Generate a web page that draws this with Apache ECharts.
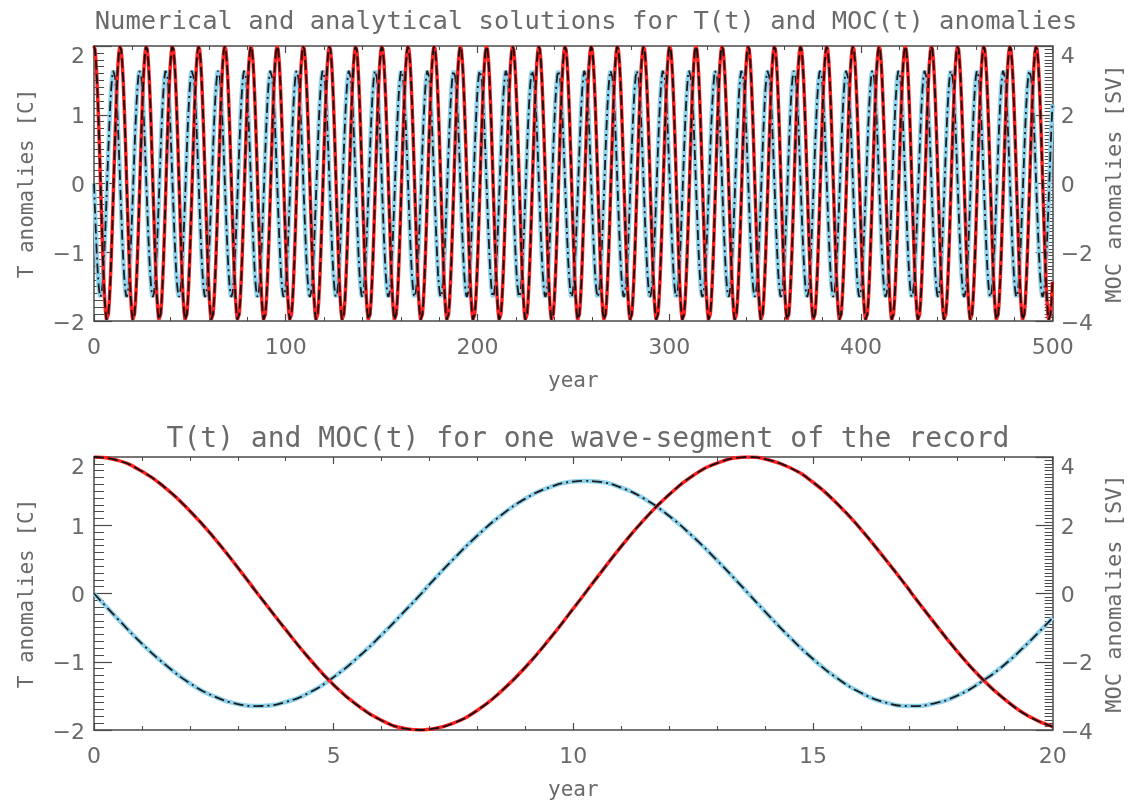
<!DOCTYPE html>
<html><head><meta charset="utf-8">
<script src="https://cdn.jsdelivr.net/npm/echarts@6/dist/echarts.min.js"></script>
<style>html,body{margin:0;padding:0;background:#fff}#c{width:1134px;height:802px}</style>
</head><body><div id="c"></div>
<script>
// ---- data (one wave-segment, 0..20 years) ----
const years = [0,0.5,1,1.5,2,2.5,3,3.41,3.5,4,4.5,5,5.5,6,6.5,6.83,7,7.5,8,8.5,9,9.5,10,10.24,
               10.5,11,11.5,12,12.5,13,13.5,13.65,14,14.5,15,15.5,16,16.5,17,17.06,17.5,18,18.5,19,19.5,20];
const tempAnomaly = [2.00,1.95,1.79,1.54,1.21,0.82,0.38,0.00,-0.08,-0.53,-0.96,-1.34,-1.64,-1.86,-1.98,-2.00,-1.99,-1.90,-1.71,-1.43,-1.08,-0.67,-0.22,0.00,
                     0.24,0.69,1.10,1.45,1.73,1.91,1.995,2.00,1.97,1.85,1.63,1.32,0.94,0.51,0.06,0.00,-0.40,-0.84,-1.23,-1.55,-1.80,-1.95];
const mocAnomaly = [0.00,-0.75,-1.47,-2.10,-2.63,-3.01,-3.24,-3.30,-3.297,-3.18,-2.90,-2.45,-1.88,-1.21,-0.49,0.00,0.27,1.01,1.70,2.30,2.78,3.11,3.28,3.30,
                    3.28,3.10,2.76,2.27,1.66,0.97,0.23,0.00,-0.53,-1.26,-1.92,-2.48,-2.91,-3.19,-3.299,-3.30,-3.23,-3.00,-2.60,-2.08,-1.43,-0.71];
// full record: the same wave repeated, period
const recordLength = 500;
const wavePeriod = 13.65;

const topTitle = 'Numerical and analytical solutions for T(t) and MOC(t) anomalies';
const bottomTitle = 'T(t) and MOC(t) for one wave-segment of the record';
const leftName = 'T anomalies [C]';
const rightName = 'MOC anomalies [SV]';
const xName = 'year';

function segmentPairs(vals){ return years.map((t,i)=>[t, vals[i]]); }
function recordPairs(vals){
  const out=[];
  for(let k=0; k*wavePeriod<=recordLength; k++){
    for(let i=0;i<years.length;i++){
      if(years[i] >= wavePeriod) break;
      const x = k*wavePeriod + years[i];
      if(x > recordLength) break;
      out.push([x, vals[i]]);
    }
  }
  return out;
}

const FONT = 'DejaVu Sans';
const MONO = 'DejaVu Sans Mono';
const TXT = '#6a6a6a';
const AX = '#4a4a4a';
function yLabel(top){
  return function(v){
    const s = String(v).replace('-', '\u2212');
    return v === top ? '{hi|' + s + '}' : '{n|' + s + '}';
  };
}
const labelRich = {
  n:{fontFamily:FONT, fontSize:22, color:TXT, padding:[6,0,0,0]},
  hi:{fontFamily:FONT, fontSize:22, color:TXT, padding:[22,0,0,0]}
};

function xAxes(gi, max, interval){
  return [{
    gridIndex: gi, type:'value', min:0, max:max, interval:interval, position:'bottom',
    name:xName, nameLocation:'middle', nameGap:50,
    nameTextStyle:{fontFamily:MONO, fontSize:21, color:TXT},
    axisLine:{show:true, onZero:false, lineStyle:{color:AX, width:1.5}},
    axisTick:{show:true, inside:true, length:7, lineStyle:{color:AX, width:1.2}},
    minorTick:{show:true, splitNumber:5, length:4, lineStyle:{color:AX, width:1}},
    axisLabel:{margin:16, fontFamily:FONT, fontSize:22, color:TXT},
    splitLine:{show:false}
  },{
    gridIndex: gi, type:'value', min:0, max:max, interval:interval, position:'top',
    axisLine:{show:true, onZero:false, lineStyle:{color:AX, width:1.5}},
    axisTick:{show:true, inside:true, length:7, lineStyle:{color:AX, width:1.2}},
    minorTick:{show:true, splitNumber:5, length:4, lineStyle:{color:AX, width:1}},
    axisLabel:{show:false}, splitLine:{show:false}
  }];
}
function yAxes(gi){
  return [{
    gridIndex: gi, type:'value', min:-2, max:2, interval:1, position:'left',
    name:leftName, nameLocation:'middle', nameGap:56,
    nameTextStyle:{fontFamily:MONO, fontSize:21, color:TXT},
    axisLine:{show:true, onZero:false, lineStyle:{color:AX, width:1.5}},
    axisTick:{show:true, inside:true, length:18, lineStyle:{color:AX, width:1.2}},
    minorTick:{show:true, splitNumber:10, length:10, lineStyle:{color:AX, width:1}},
    axisLabel:{margin:9, formatter:yLabel(2), rich:labelRich},
    splitLine:{show:false}
  },{
    gridIndex: gi, type:'value', min:-4, max:4, interval:2, position:'right',
    name:rightName, nameLocation:'middle', nameGap:33,
    nameTextStyle:{fontFamily:MONO, fontSize:22, color:TXT},
    axisLine:{show:true, onZero:false, lineStyle:{color:AX, width:1.5}},
    axisTick:{show:true, inside:true, length:17, lineStyle:{color:AX, width:1.2}},
    minorTick:{show:true, splitNumber:20, length:8, lineStyle:{color:AX, width:1}},
    axisLabel:{margin:8, formatter:yLabel(4), rich:labelRich},
    splitLine:{show:false}
  }];
}

function lineSeries(xi, yi, data, style, smooth){
  return Object.assign({
    type:'line', xAxisIndex:xi, yAxisIndex:yi, data:data, showSymbol:false, symbol:'none',
    smooth:smooth, animation:false, clip:true, silent:true
  }, style);
}
const sBlue = {lineStyle:{color:'#8fd2ec', width:4.5}};
const sBlueDash = {lineStyle:{color:'#1b1b1b', width:1.8, type:[10,4,2,4]}};
const sRed = {lineStyle:{color:'#ff2020', width:3.5}};
const sRedDash = {lineStyle:{color:'#111', width:1.8, type:[10,4]}};

const recT = recordPairs(tempAnomaly), recM = recordPairs(mocAnomaly);
const segT = segmentPairs(tempAnomaly), segM = segmentPairs(mocAnomaly);

const option = {
  backgroundColor:'#fff',
  animation:false,
  title:[
    {text:topTitle, left:581, textAlign:'center', top:4, textStyle:{fontFamily:MONO, fontSize:25.5, fontWeight:'normal', color:TXT}},
    {text:bottomTitle, left:583, textAlign:'center', top:421, textStyle:{fontFamily:MONO, fontSize:28, fontWeight:'normal', color:TXT}}
  ],
  grid:[
    {left:94, right:74, top:46, height:275},
    {left:94, right:75, top:457, height:275}
  ],
  xAxis:[].concat(xAxes(0,500,100), xAxes(1,20,5)),
  yAxis:[].concat(yAxes(0), yAxes(1)),
  series:[
    lineSeries(0,1,recM,sBlue,false),
    lineSeries(0,1,recM,sBlueDash,false),
    lineSeries(0,0,recT,sRed,false),
    lineSeries(0,0,recT,sRedDash,false),
    lineSeries(2,3,segM,sBlue,0.5),
    lineSeries(2,3,segM,sBlueDash,0.5),
    lineSeries(2,2,segT,sRed,0.5),
    lineSeries(2,2,segT,sRedDash,0.5)
  ]
};
const chart = echarts.init(document.getElementById('c'), null, {renderer:'canvas'});
chart.setOption(option);
</script>
</body></html>
